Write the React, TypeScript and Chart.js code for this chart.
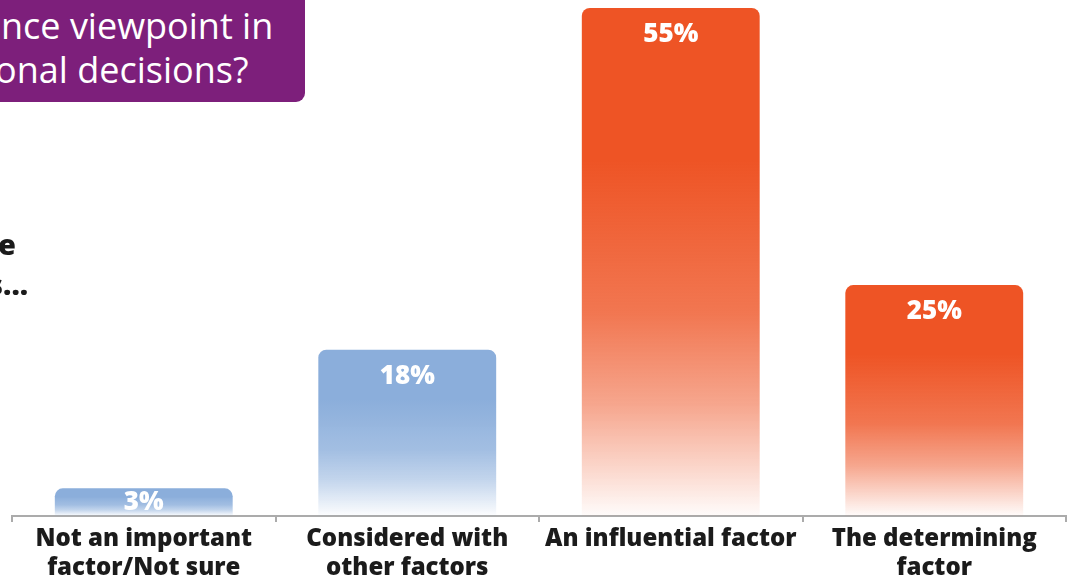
import React, { useEffect, useRef } from "react";
import { Chart, registerables } from "chart.js";

Chart.register(...registerables);

const categories: (string | string[])[] = [
  ["Not an important", "factor/Not sure"],
  ["Considered with", "other factors"],
  "An influential factor",
  ["The determining", "factor"],
];
const values: number[] = [3, 18, 55, 25];
const barColors: string[] = ["#8BAEDB", "#8BAEDB", "#EE5425", "#EE5425"];
const valueLabels: string[] = ["3%", "18%", "55%", "25%"];

function hexToRgb(h: string) {
  const n = parseInt(h.slice(1), 16);
  return [(n >> 16) & 255, (n >> 8) & 255, n & 255];
}

const labelPlugin = {
  id: "valueLabels",
  afterDatasetsDraw(chart: any) {
    const ctx = chart.ctx;
    const meta = chart.getDatasetMeta(0);
    ctx.save();
    ctx.fillStyle = "#ffffff";
    ctx.font = "800 26px 'Open Sans', 'Noto Sans', sans-serif";
    ctx.textAlign = "center";
    ctx.textBaseline = "middle";
    meta.data.forEach((el: any, i: number) => {
      const h = el.base - el.y;
      const off = Math.min(27, h / 2);
      ctx.fillText(valueLabels[i], el.x, el.y + off);
    });
    ctx.restore();
  },
};

export default function App() {
  const ref = useRef<HTMLCanvasElement>(null);
  useEffect(() => {
    if (!ref.current) return;
    const chart = new Chart(ref.current, {
      type: "bar",
      data: {
        labels: categories,
        datasets: [
          {
            data: values,
            backgroundColor: (c: any) => {
              const chart = c.chart;
              const y = chart.scales?.y;
              const col = barColors[c.dataIndex] || barColors[0];
              if (!y || !chart.chartArea || c.raw == null) return col;
              const top = y.getPixelForValue(c.raw);
              const bot = y.getPixelForValue(0);
              if (!isFinite(top) || !isFinite(bot) || bot - top < 1) return col;
              const [r, g, b] = hexToRgb(col);
              const gr = chart.ctx.createLinearGradient(0, top, 0, bot);
              gr.addColorStop(0, `rgba(${r},${g},${b},1)`);
              gr.addColorStop(0.3, `rgba(${r},${g},${b},1)`);
              gr.addColorStop(0.6, `rgba(${r},${g},${b},0.8)`);
              gr.addColorStop(0.78, `rgba(${r},${g},${b},0.52)`);
              gr.addColorStop(0.9, `rgba(${r},${g},${b},0.25)`);
              gr.addColorStop(1, `rgba(${r},${g},${b},0.02)`);
              return gr;
            },
            borderRadius: 8,
            borderSkipped: "bottom",
            barPercentage: 0.675,
            categoryPercentage: 1,
          },
        ],
      },
      options: {
        animation: false,
        responsive: true,
        maintainAspectRatio: false,
        layout: { padding: { left: 12, right: 2, top: 8, bottom: 0 } },
        plugins: {
          legend: { display: false },
          tooltip: { enabled: false },
        },
        scales: {
          y: { display: false, min: 0, max: 55 },
          x: {
            afterFit: (s: any) => {
              s.height = 61;
            },
            border: { display: true, color: "#ababab", width: 2 },
            grid: {
              display: true,
              offset: true,
              drawOnChartArea: false,
              drawTicks: true,
              tickLength: 6,
              color: "#ababab",
              lineWidth: 2,
            },
            ticks: {
              padding: 3,
              color: "#1b1b1b",
              maxRotation: 0,
              autoSkip: false,
              font: { family: "'Open Sans', 'Noto Sans', sans-serif", size: 24, weight: "800" as any, lineHeight: 1.2 },
            },
          },
        },
      },
      plugins: [labelPlugin],
    });
    return () => chart.destroy();
  }, []);

  const purpleText: React.CSSProperties = {
    position: "absolute",
    color: "#ffffff",
    fontFamily: "'Open Sans', 'Noto Sans', sans-serif",
    fontSize: 36,
    lineHeight: "43px",
    whiteSpace: "nowrap",
  };
  const sideText: React.CSSProperties = {
    position: "absolute",
    color: "#1b1b1b",
    fontFamily: "'Open Sans', 'Noto Sans', sans-serif",
    fontWeight: 800,
    fontSize: 29,
    lineHeight: "40px",
    whiteSpace: "nowrap",
  };

  return (
    <div
      style={{
        position: "fixed",
        left: 0,
        top: 0,
        width: 1068,
        height: 577,
        background: "#ffffff",
        overflow: "hidden",
      }}
    >
      <canvas ref={ref} />
      <div
        style={{
          position: "absolute",
          left: -12,
          top: -12,
          width: 317,
          height: 114,
          background: "#7D1F7B",
          borderRadius: 9,
        }}
      />
      <div style={{ ...purpleText, left: 1, top: 4 }}>nce viewpoint in</div>
      <div style={{ ...purpleText, left: -5, top: 48 }}>onal decisions?</div>
      <div style={{ ...sideText, left: -2, top: 224 }}>e</div>
      <div style={{ ...sideText, left: -12, top: 264 }}>s...</div>
    </div>
  );
}
